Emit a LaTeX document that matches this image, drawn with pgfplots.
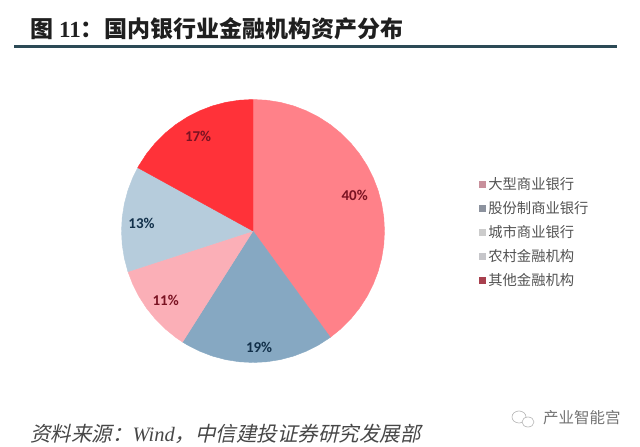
\documentclass[border=0pt]{standalone}
\usepackage{pgfplots}
\pgfplotsset{compat=1.18}
\usepgfplotslibrary{polar}
\usepackage{fontspec}
\setmainfont{Liberation Serif}
\newfontfamily\cjk{Noto Sans CJK SC}
\newfontfamily\cjkslant[FakeSlant=0.22]{Noto Sans CJK SC}
\newfontfamily\labelfont{Carlito}
\definecolor{wA}{HTML}{FF8189}
\definecolor{wB}{HTML}{86A8C2}
\definecolor{wC}{HTML}{FBAFB7}
\definecolor{wD}{HTML}{B6CCDC}
\definecolor{wE}{HTML}{FF3239}
\definecolor{lA}{HTML}{C8909C}
\definecolor{lB}{HTML}{8C929E}
\definecolor{lC}{HTML}{CCCCCC}
\definecolor{lD}{HTML}{C6C6CA}
\definecolor{lE}{HTML}{A8404E}
\definecolor{rule}{HTML}{2C4A56}
\definecolor{redtxt}{HTML}{7A1222}
\definecolor{bluetxt}{HTML}{12304A}
\newcommand{\pct}[1]{\labelfont\bfseries\fontsize{15}{16}\selectfont #1\%}
\begin{document}
\begin{tikzpicture}[x=1pt,y=1pt]
\useasboundingbox (0,0) rectangle (640,447);
\begin{polaraxis}[
    at={(253pt,216pt)},
    anchor=center,
    scale only axis,
    width=263pt,
    height=263pt,
    ymin=0, ymax=1,
    hide axis,
    clip=false,
    legend cell align=left,
    legend style={
        at={(1.36,0.495)},
        anchor=west,
        draw=none,
        fill=none,
        inner sep=0pt,
        font=\cjk\fontsize{14.3}{15}\selectfont\color{black!68},
        row sep=6.3pt,
        /tikz/every even column/.append style={column sep=1pt},
    },
    legend image code/.code={\fill[draw=none,#1] (0pt,-3.5pt) rectangle (7pt,3.5pt);},
]
    % 40%
    \addplot[fill=wA, draw=wA, forget plot] coordinates {
        (0,0) (306,1) (312,1) (318,1) (324,1) (330,1) (336,1) (342,1) (348,1) (354,1) (360,1)
        (6,1) (12,1) (18,1) (24,1) (30,1) (36,1) (42,1) (48,1) (54,1) (60,1) (66,1) (72,1) (78,1) (84,1) (90,1)
    } -- cycle;
    % 19%
    \addplot[fill=wB, draw=wB, forget plot] coordinates {
        (0,0) (237.6,1) (240,1) (246,1) (252,1) (258,1) (264,1) (270,1) (276,1) (282,1) (288,1) (294,1) (300,1) (306,1)
    } -- cycle;
    % 11%
    \addplot[fill=wC, draw=wC, forget plot] coordinates {
        (0,0) (198,1) (204,1) (210,1) (216,1) (222,1) (228,1) (234,1) (237.6,1)
    } -- cycle;
    % 13%
    \addplot[fill=wD, draw=wD, forget plot] coordinates {
        (0,0) (151.2,1) (156,1) (162,1) (168,1) (174,1) (180,1) (186,1) (192,1) (198,1)
    } -- cycle;
    % 17%
    \addplot[fill=wE, draw=wE, forget plot] coordinates {
        (0,0) (90,1) (96,1) (102,1) (108,1) (114,1) (120,1) (126,1) (132,1) (138,1) (144,1) (150,1) (151.2,1)
    } -- cycle;

    \addlegendimage{fill=lA}\addlegendentry{大型商业银行}
    \addlegendimage{fill=lB}\addlegendentry{股份制商业银行}
    \addlegendimage{fill=lC}\addlegendentry{城市商业银行}
    \addlegendimage{fill=lD}\addlegendentry{农村金融机构}
    \addlegendimage{fill=lE}\addlegendentry{其他金融机构}

    \node[text=redtxt]  at (axis cs:19.4,0.82)  {\pct{40}};
    \node[text=bluetxt] at (axis cs:273,0.887)  {\pct{19}};
    \node[text=redtxt]  at (axis cs:218.6,0.85) {\pct{11}};
    \node[text=bluetxt] at (axis cs:176,0.85)   {\pct{13}};
    \node[text=redtxt]  at (axis cs:120.2,0.83) {\pct{17}};
\end{polaraxis}
% title and rule
\node[anchor=west, inner sep=0pt, text=black!88] at (30,418)
    {\cjk\bfseries\fontsize{23}{24}\selectfont 图\hspace{6pt}{\rmfamily 11}：\hspace{1pt}国内银行业金融机构资产分布};
\fill[rule] (14,398.5) rectangle (617,401.5);
% source line
\node[anchor=west, inner sep=0pt, text=black!72] at (30,13)
    {\cjkslant\fontsize{20.5}{22}\selectfont 资料来源：{\itshape\rmfamily Wind}，中信建投证券研究发展部};
% watermark
\draw[black!30, line width=0.6pt] (519,30) ellipse (7pt and 6pt);
\draw[black!30, line width=0.6pt, fill=white] (528,25) ellipse (6pt and 5pt);
\node[anchor=west, inner sep=0pt, text=black!55] at (543,29)
    {\cjk\fontsize{15.5}{16}\selectfont 产业智能宫};
\end{tikzpicture}
\end{document}
